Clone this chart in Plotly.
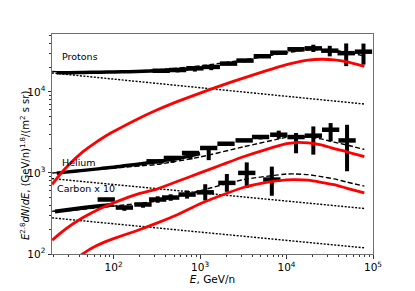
import numpy as np
import plotly.graph_objects as go

# ---------------- model curves ----------------
model_E = [19.5, 25.1, 31.6, 39.8, 50.1, 63.1, 79.4, 100, 178, 316, 562, 1000, 1778,
           3162, 5623, 10000, 12590, 17780, 25120, 35480, 50120, 79430]
p_red = [724, 1012, 1318, 1660, 2018, 2399, 2818, 3236, 4467, 5957, 7674, 9661, 12020,
         14790, 17990, 21630, 22910, 24550, 25230, 24830, 23440, 20650]
he_red = [148, 186, 224, 263, 302, 343, 385, 427, 537, 631, 794, 1000, 1259,
          1585, 1928, 2291, 2371, 2344, 2213, 1995, 1820, 1585]
c_red = [58, 68, 79, 93, 110, 126, 141, 155, 191, 240, 309, 417, 531,
         661, 759, 822, 828, 813, 767, 716, 646, 569]

dash_E = [19.5, 31.6, 56.2, 100, 316, 1000, 3162, 10000, 12590, 17780, 25120, 35480, 50120, 79430]
p_dash = [17820, 17590, 17480, 17590, 18640, 20860, 24680, 30370, 31500, 32770, 33150, 32470, 30810, 27680]
he_dash = [999, 1033, 1088, 1148, 1273, 1572, 2095, 2745, 2820, 2773, 2627, 2395, 2203, 1949]
c_dash = [337, 344, 367, 390, 449, 603, 826, 969, 972, 952, 901, 844, 770, 687]

dot_E = [19.4, 80000]
p_dot = [17100, 7070]
he_dot = [851, 364]
c_dot = [279, 119]

# ---------------- low-energy dense data ----------------
dense_E = [22, 30, 45, 70, 100, 150, 220, 330, 500, 700, 1000]
p_dense = [17200, 17250, 17350, 17450, 17600, 17750, 17950, 18200, 18600, 19100, 19800]
he_dense = [990, 1030, 1075, 1130, 1175, 1240, 1310, 1390, 1480, 1590, 1730]
c_dense_E = [21, 30, 45, 70, 100]
c_dense = [335, 352, 372, 392, 405]

# ---------------- binned data (log10 E centres, values, errors in dex) ----------------
p_logE = [2.55, 2.74, 2.94, 3.13, 3.33, 3.52, 3.72, 3.91, 4.11, 4.31, 4.50, 4.69, 4.89]
p_val = [18200, 18600, 19500, 20300, 22300, 24300, 27500, 30400, 33500, 34400, 32200, 30000, 31300]
p_up = [0.01, 0.01, 0.01, 0.01, 0.01, 0.01, 0.015, 0.02, 0.02, 0.045, 0.06, 0.12, 0.10]
p_dn = [0.01, 0.03, 0.04, 0.04, 0.02, 0.02, 0.015, 0.02, 0.03, 0.045, 0.07, 0.16, 0.16]

he_logE = [2.48, 2.68, 2.89, 3.10, 3.30, 3.51, 3.70, 3.91, 4.11, 4.31, 4.51, 4.70]
he_val = [1390, 1530, 1760, 2030, 2290, 2520, 2775, 2960, 2770, 2880, 3410, 2515]
he_up = [0.01, 0.01, 0.01, 0.01, 0.01, 0.01, 0.02, 0.05, 0.05, 0.114, 0.082, 0.193]
he_dn = [0.01, 0.06, 0.08, 0.15, 0.02, 0.02, 0.03, 0.05, 0.20, 0.234, 0.144, 0.38]

c_logE = [1.915, 2.125, 2.34, 2.51, 2.66, 2.85, 3.06, 3.31, 3.54, 3.83]
c_val = [470, 374, 408, 470, 497, 541, 576, 753, 1000, 828]
c_up = [0.02, 0.02, 0.02, 0.04, 0.04, 0.05, 0.10, 0.11, 0.13, 0.16]
c_dn = [0.02, 0.04, 0.04, 0.04, 0.04, 0.05, 0.10, 0.11, 0.185, 0.20]

x_tick_vals = [1e2, 1e3, 1e4, 1e5]
x_tick_text = ["10<sup>2</sup>", "10<sup>3</sup>", "10<sup>4</sup>", "10<sup>5</sup>"]
y_tick_vals = [1e2, 1e3, 1e4]
y_tick_text = ["10<sup>2</sup>", "10<sup>3</sup>", "10<sup>4</sup>"]

FONT = "DejaVu Sans"
fig = go.Figure()


def binned(logE, val, up, dn, half=0.1):
    E = [10 ** l for l in logE]
    ex_p = [e * (10 ** half - 1) for e in E]
    ex_m = [e * (1 - 10 ** -half) for e in E]
    ey_p = [v * (10 ** u - 1) for v, u in zip(val, up)]
    ey_m = [v * (1 - 10 ** -d) for v, d in zip(val, dn)]
    fig.add_trace(go.Scatter(
        x=E, y=val, mode="markers",
        marker=dict(size=1, color="black"),
        error_x=dict(type="data", symmetric=False, array=ex_p, arrayminus=ex_m,
                     thickness=4.5, width=0, color="black"),
        error_y=dict(type="data", symmetric=False, array=ey_p, arrayminus=ey_m,
                     thickness=4, width=0, color="black"),
        showlegend=False, hoverinfo="skip"))


# dotted (component) lines
for vals in (p_dot, he_dot, c_dot):
    fig.add_trace(go.Scatter(x=dot_E, y=vals, mode="lines",
                             line=dict(color="black", width=1.4, dash="2px,1.5px"),
                             showlegend=False))

# dense low-energy data
fig.add_trace(go.Scatter(x=dense_E, y=p_dense, mode="lines",
                         line=dict(color="black", width=3.5, shape="spline"), showlegend=False))
fig.add_trace(go.Scatter(x=dense_E, y=he_dense, mode="lines",
                         line=dict(color="black", width=3.5, shape="spline"), showlegend=False))
fig.add_trace(go.Scatter(x=c_dense_E, y=c_dense, mode="lines",
                         line=dict(color="black", width=4, shape="spline"), showlegend=False))

binned(p_logE, p_val, p_up, p_dn)
binned(he_logE, he_val, he_up, he_dn)
binned(c_logE, c_val, c_up, c_dn)

# dashed total lines
for vals in (p_dash, he_dash, c_dash):
    fig.add_trace(go.Scatter(x=dash_E, y=vals, mode="lines",
                             line=dict(color="black", width=1.4, dash="5px,2.5px",
                                       shape="spline", smoothing=0.6),
                             showlegend=False))

# red lines
for vals in (p_red, he_red, c_red):
    fig.add_trace(go.Scatter(x=model_E, y=vals, mode="lines",
                             line=dict(color="#ff0000", width=2.8, shape="spline", smoothing=0.6),
                             showlegend=False))

minor_x = [m * 10 ** d for d in range(1, 5) for m in range(2, 10)]
minor_y = [m * 10 ** d for d in range(2, 5) for m in range(2, 10)]

axis_common = dict(type="log", showgrid=False, zeroline=False, showline=True, mirror=True,
                   linecolor="#6f6f6f", linewidth=1, ticks="outside", ticklen=3.5,
                   tickcolor="#333", automargin=False,
                   tickfont=dict(family=FONT, size=10.5, color="black"))

fig.update_xaxes(range=[np.log10(19.4), 5], tickvals=x_tick_vals, ticktext=x_tick_text,
                 minor=dict(ticks="outside", ticklen=2, tickvals=minor_x, tickcolor="#333"),
                 title=dict(text="<i>E</i>, GeV/n", font=dict(family=FONT, size=10.5, color="black"),
                            standoff=0),
                 **axis_common)
fig.update_yaxes(range=[2, np.log10(5.17e4)], tickvals=y_tick_vals, ticktext=y_tick_text,
                 minor=dict(ticks="outside", ticklen=2, tickvals=minor_y, tickcolor="#333"),
                 **axis_common)

ann_font = dict(family=FONT, size=9.5, color="black")
fig.add_annotation(x=0.025, y=0.90, xref="paper", yref="paper", text="Protons",
                   showarrow=False, xanchor="left", yanchor="middle", font=ann_font)
fig.add_annotation(x=0.025, y=0.418, xref="paper", yref="paper", text="Helium",
                   showarrow=False, xanchor="left", yanchor="middle", font=ann_font)
fig.add_annotation(x=0.01, y=0.30, xref="paper", yref="paper", text="Carbon x 10",
                   showarrow=False, xanchor="left", yanchor="middle", font=ann_font)
fig.add_annotation(x=-0.084, y=0.40, xref="paper", yref="paper",
                   text="<i>E</i><sup>2.8</sup><i>dN</i>/<i>dE</i>, (GeV/n)<sup>1.8</sup>/(m<sup>2</sup> s sr)",
                   textangle=-90, showarrow=False, xanchor="center", yanchor="middle",
                   font=dict(family=FONT, size=10, color="black"))

# page body adds an 8px offset, so margins are reduced accordingly
fig.update_layout(width=415, height=291, margin=dict(l=44, r=50, t=26, b=45),
                  paper_bgcolor="white", plot_bgcolor="white", showlegend=False)

fig.write_html("out.html")
